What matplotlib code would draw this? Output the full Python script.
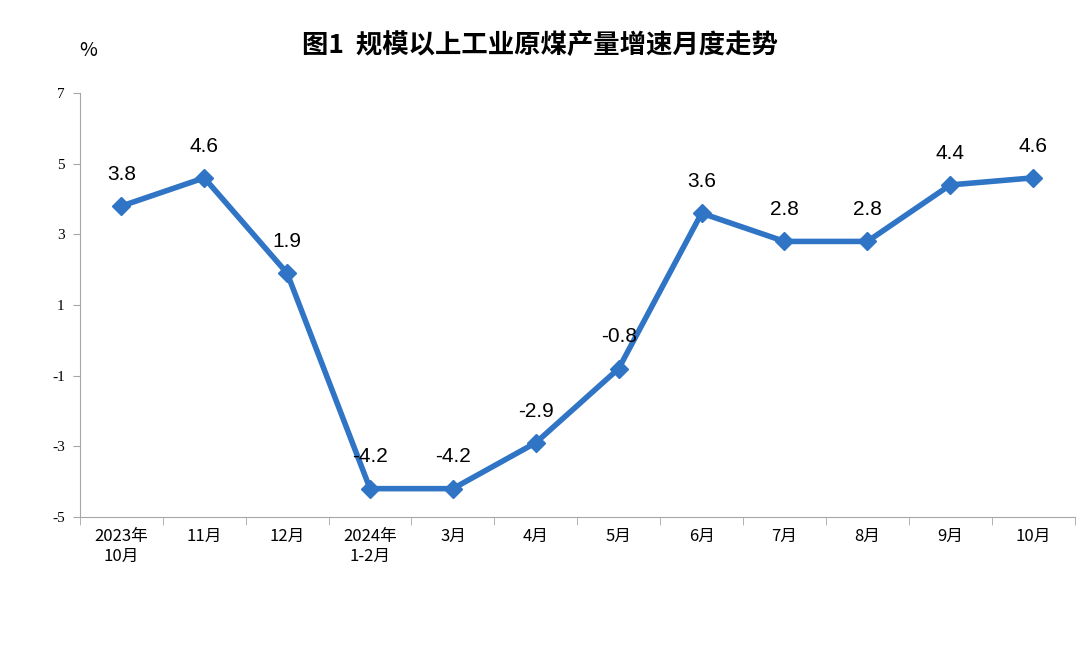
import matplotlib.pyplot as plt
import numpy as np

plt.rcParams['font.family'] = ['Noto Sans CJK SC', 'DejaVu Sans']

months = ['2023年\n10月', '11月', '12月', '2024年\n1-2月', '3月', '4月', '5月',
          '6月', '7月', '8月', '9月', '10月']
growth = [3.8, 4.6, 1.9, -4.2, -4.2, -2.9, -0.8, 3.6, 2.8, 2.8, 4.4, 4.6]
yticks = [-5, -3, -1, 1, 3, 5, 7]

line_color = '#2F74C5'
axis_color = '#A6A6A6'

fig = plt.figure(figsize=(10.8, 6.51), dpi=100)
ax = fig.add_axes([0.074, 0.206, 0.921, 0.651])

x = np.arange(len(months))
ax.plot(x, growth, color=line_color, lw=4, marker='D', markersize=9, zorder=3)
for xi, v in zip(x, growth):
    ax.annotate(f'{v:.1f}', (xi, v), xytext=(0, 16), textcoords='offset points',
                ha='center', va='bottom', fontsize=15, family='Liberation Sans')

ax.set_xlim(-0.5, len(months) - 0.5)
ax.set_ylim(-5, 7)
ax.set_yticks(yticks)
ax.set_yticklabels([str(t) for t in yticks], fontsize=11, family='Liberation Serif')
ax.set_xticks(x)
ax.set_xticklabels(months, fontsize=12)
ax.tick_params(axis='x', length=0, pad=8)
ax.set_xticks(np.arange(-0.5, len(months)), minor=True)
ax.tick_params(axis='x', which='minor', length=6, color=axis_color)
ax.tick_params(axis='y', length=5, color=axis_color, pad=6)

for s in ['top', 'right']:
    ax.spines[s].set_visible(False)
for s in ['left', 'bottom']:
    ax.spines[s].set_color(axis_color)

fig.text(0.5, 0.93, '图1  规模以上工业原煤产量增速月度走势', ha='center', va='center',
         fontsize=19, fontweight='bold')
fig.text(0.082, 0.923, '%', ha='center', va='center', fontsize=14)

fig.savefig('out.png')
